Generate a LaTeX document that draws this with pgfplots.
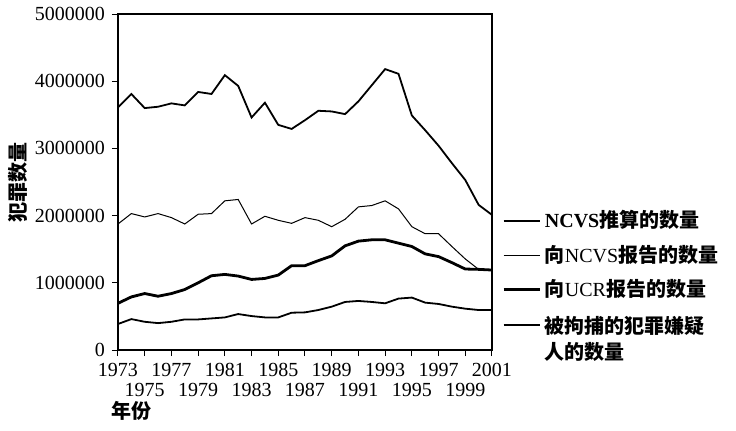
\documentclass[border=0pt]{standalone}
\usepackage{fontspec}
\setmainfont{Liberation Serif}
\newfontfamily\cjk{Noto Sans CJK SC}
\usepackage{pgfplots}
\usepackage{pgfplotstable}
\pgfplotsset{compat=1.18}

\pgfplotstableread{
year est rep ucr arr
1973 3610000 1875000 695000 387000
1974 3810000 2030000 790000 460000
1975 3600000 1980000 840000 420000
1976 3620000 2030000 800000 400000
1977 3670000 1970000 840000 420000
1978 3640000 1875000 900000 455000
1979 3840000 2020000 1000000 455000
1980 3810000 2030000 1105000 470000
1981 4090000 2220000 1125000 485000
1982 3930000 2240000 1100000 535000
1983 3460000 1875000 1050000 505000
1984 3680000 1990000 1065000 485000
1985 3350000 1930000 1115000 485000
1986 3290000 1885000 1255000 555000
1987 3420000 1970000 1255000 560000
1988 3560000 1930000 1330000 595000
1989 3550000 1835000 1400000 645000
1990 3510000 1945000 1550000 715000
1991 3700000 2130000 1620000 730000
1992 3940000 2150000 1640000 715000
1993 4180000 2220000 1640000 695000
1994 4110000 2100000 1590000 765000
1995 3490000 1835000 1540000 780000
1996 3270000 1730000 1430000 705000
1997 3040000 1730000 1390000 685000
1998 2780000 1540000 1300000 645000
1999 2530000 1355000 1205000 615000
2000 2160000 1200000 1200000 595000
2001 2010000 1190000 1190000 595000
}\crimedata

\begin{document}
\begin{tikzpicture}
\useasboundingbox (-59pt,-40pt) rectangle (309pt,175pt);
\begin{axis}[
  scale only axis,
  width=187pt, height=168pt,
  xmin=1973, xmax=2001,
  ymin=0, ymax=5000000,
  /pgf/number format/assume math mode=true,
  font=\fontsize{10}{12}\selectfont,
  axis line style={line width=0.6pt},
  tick style={black, line width=0.5pt},
  major tick length=3pt,
  tick align=outside,
  xtick pos=bottom, ytick pos=left,
  xtick={1973,1977,1981,1985,1989,1993,1997,2001},
  extra x ticks={1975,1979,1983,1987,1991,1995,1999},
  extra x tick style={tick label style={yshift=-10pt}},
  xticklabel style={/pgf/number format/1000 sep={}},
  ytick={0,1000000,2000000,3000000,4000000,5000000},
  scaled y ticks=false,
  yticklabel style={/pgf/number format/fixed, /pgf/number format/1000 sep={}},
  xlabel={\cjk\bfseries 年份},
  xlabel style={at={(axis description cs:-0.035,-0.18)}, anchor=west},
  ylabel={\cjk\bfseries 犯罪数量},
  ylabel style={at={(axis description cs:-0.267,0.5)}, anchor=center},
  legend style={at={(axis description cs:1.01,0.44)}, anchor=north west,
    draw=none, fill=none, row sep=3.2pt,
    nodes={font=\fontsize{10}{13.5}\selectfont}},
  legend cell align=left,
  legend image code/.code={\draw[#1] (0pt,0pt) -- (18pt,0pt);},
]
\addplot[black, line width=0.9pt] table[x=year, y=est] {\crimedata};
\addlegendentry{\textbf{NCVS}{\cjk\bfseries 推算的数量}}
\addplot[black, line width=0.5pt] table[x=year, y=rep] {\crimedata};
\addlegendentry{{\cjk\bfseries 向}NCVS{\cjk\bfseries 报告的数量}}
\addplot[black, line width=1.4pt] table[x=year, y=ucr] {\crimedata};
\addlegendentry{{\cjk\bfseries 向}UCR{\cjk\bfseries 报告的数量}}
\addplot[black, line width=0.9pt] table[x=year, y=arr] {\crimedata};
\addlegendentry{\begin{tabular}[t]{@{}l@{}}{\cjk\bfseries 被拘捕的犯罪嫌疑}\\[-0.5pt]{\cjk\bfseries 人的数量}\end{tabular}}
\end{axis}
\end{tikzpicture}
\end{document}
